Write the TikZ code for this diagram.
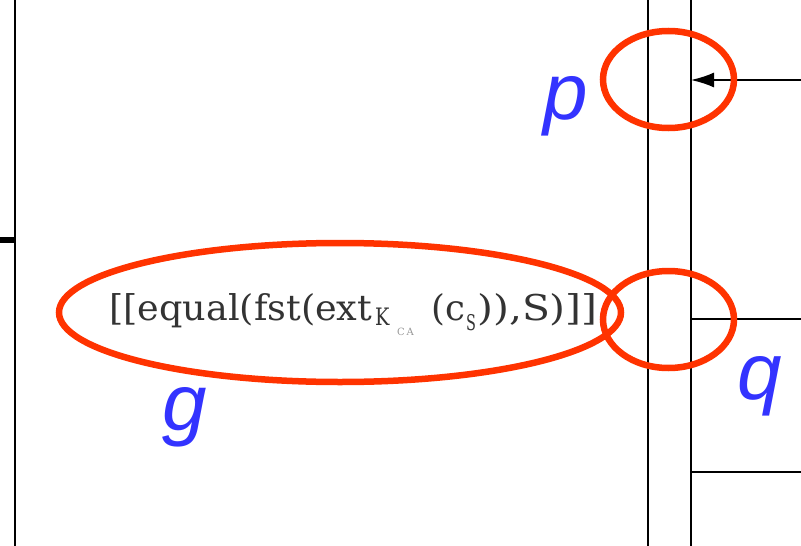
\documentclass[tikz,border=0pt]{standalone}
\usepackage{fontspec}
\usetikzlibrary{arrows.meta}
\setmainfont{DejaVu Serif}
\newfontfamily\lblfont{Liberation Sans}
\definecolor{markred}{RGB}{255,51,0}
\definecolor{lblblue}{RGB}{51,51,255}
\tikzset{
  rule/.style={draw=black, line width=1.6pt},
  ring/.style={draw=markred, line width=6.5pt},
  lbl/.style={text=lblblue, font=\lblfont\itshape\fontsize{80}{80}\selectfont, inner sep=0pt, anchor=base},
  formula/.style={font=\fontsize{35.5}{36}\selectfont, inner sep=0pt, text=black!80, anchor=base west},
  subbig/.style={font=\fontsize{24}{24}\selectfont, inner sep=0pt, text=black!80, anchor=base west},
  subtiny/.style={font=\fontsize{10}{10}\selectfont, inner sep=0pt, text=black!40, anchor=base west}
}
\begin{document}
\begin{tikzpicture}[x=1pt,y=-1pt]
\useasboundingbox (0,0) rectangle (801,546);
\fill[white] (0,0) rectangle (801,546);
% coordinates
\coordinate (lt) at (15,0);
\coordinate (lb) at (15,546);
\coordinate (tl) at (0,240);
\coordinate (tr) at (15,240);
\coordinate (at) at (648,0);
\coordinate (ab) at (648,546);
\coordinate (bt) at (691,0);
\coordinate (bb) at (691,546);
\coordinate (m1s) at (801,80);
\coordinate (m1e) at (691,80);
\coordinate (m2s) at (691,319);
\coordinate (m2e) at (801,319);
\coordinate (m3s) at (691,472);
\coordinate (m3e) at (801,472);
% lines
\draw[rule, line width=2pt] (lt) -- (lb);
\draw[line width=6pt] (tl) -- (tr);
\draw[rule] (at) -- (ab);
\draw[rule] (bt) -- (bb);
\draw[rule, -{Latex[length=23pt,width=15pt]}] (m1s) -- (m1e);
\draw[rule] (m2s) -- (m2e);
\draw[rule] (m3s) -- (m3e);
% formula
\node[formula] (f1) at (109,320) {\scalebox{1.03}[1]{[[equal(fst(ext}};
\node[subbig] (k) at (375,325) {\scalebox{0.8}[1]{K}};
\node[subtiny] (ca) at (397,335) {C\,A};
\node[formula] (f2) at (431,320) {(c};
\node[subbig] (s) at (466,330) {\scalebox{0.6}[0.9]{S}};
\node[formula] (f3) at (477,320) {\scalebox{1.15}[1]{)),S)]]}};
% red rings
\draw[ring] (668.5,79.5) ellipse [x radius=65.5, y radius=48.5];
\draw[ring] (668.5,319.5) ellipse [x radius=65.5, y radius=48.5];
\draw[ring] (340,312.5) ellipse [x radius=281, y radius=69.5];
% labels
\node[lbl] (p) at (566,119) {p};
\node[lbl] (g) at (185,430) {g};
\node[lbl] (q) at (760,399) {q};
\end{tikzpicture}
\end{document}
